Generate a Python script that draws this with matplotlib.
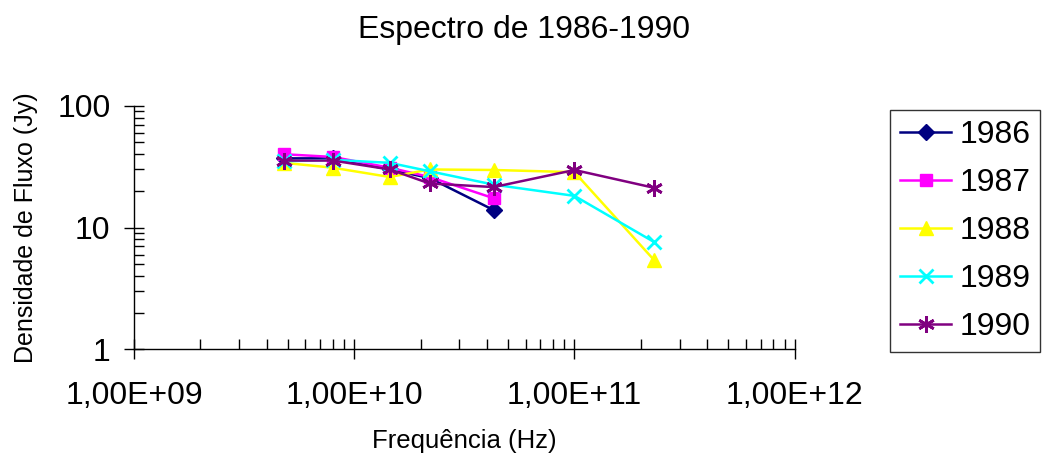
import math
import matplotlib
matplotlib.use("Agg")
import matplotlib.pyplot as plt
from matplotlib.ticker import FixedLocator, LogLocator, FuncFormatter, NullFormatter

plt.rcParams['font.family'] = ['Liberation Sans', 'DejaVu Sans']

# frequências observadas (Hz)
freq = [4.8e9, 8.0e9, 14.5e9, 22e9, 43e9, 1.0e11, 2.3e11]

# densidade de fluxo por ano (Jy)
fluxo_1986 = [37, 37, 30, 25.5, 13.9]
fluxo_1987 = [40, 38, 31, 26, 17.4]
fluxo_1988 = [34, 31, 26, 30, 29.7, 28.5, 5.4]
fluxo_1989 = [35, 36, 34, 29, 22.5, 18.2, 7.6]
fluxo_1990 = [35.5, 35.5, 30, 23, 21.5, 29.7, 21.2]

anos = ['1986', '1987', '1988', '1989', '1990']
series = [fluxo_1986, fluxo_1987, fluxo_1988, fluxo_1989, fluxo_1990]
cores = ['#000080', '#FF00FF', '#FFFF00', '#00FFFF', '#800080']
marcadores = ['D', 's', '^', 'x', (6, 2, 0)]
tamanhos = [8, 8, 10, 10, 12]
bordas = [1, 1, 1, 2, 2]

fig = plt.figure(figsize=(10.47, 4.62), dpi=100)
ax = fig.add_axes([0.128, 0.244, 0.631, 0.527])

for ano, y, c, m, ms, mew in zip(anos, series, cores, marcadores, tamanhos, bordas):
    ax.plot(freq[:len(y)], y, color=c, marker=m, markersize=ms,
            markeredgewidth=mew, linewidth=1.8, label=ano)

ax.set_xscale('log')
ax.set_yscale('log')
ax.set_xlim(1e9, 1e12)
ax.set_ylim(1, 100)

ax.xaxis.set_major_locator(FixedLocator([1e9, 1e10, 1e11, 1e12]))
ax.xaxis.set_minor_locator(LogLocator(base=10, subs=range(2, 10)))
ax.xaxis.set_major_formatter(FuncFormatter(lambda v, p: '1,00E+%02d' % round(math.log10(v))))
ax.xaxis.set_minor_formatter(NullFormatter())
ax.yaxis.set_major_locator(FixedLocator([1, 10, 100]))
ax.yaxis.set_minor_locator(LogLocator(base=10, subs=range(2, 10)))
ax.yaxis.set_major_formatter(FuncFormatter(lambda v, p: '%d' % round(v)))
ax.yaxis.set_minor_formatter(NullFormatter())

ax.spines['top'].set_visible(False)
ax.spines['right'].set_visible(False)
for s in ('left', 'bottom'):
    ax.spines[s].set_linewidth(1.0)
ax.tick_params(which='major', direction='inout', length=14, width=1.0,
               labelsize=23)
ax.tick_params(axis='x', which='major', pad=16)
ax.tick_params(axis='y', which='major', pad=10)
ax.tick_params(which='minor', direction='in', length=7, width=1.0)

fig.text(0.5, 0.935, 'Espectro de 1986-1990', fontsize=23, ha='center', va='center')
ax.set_xlabel('Frequência (Hz)', fontsize=18.5, labelpad=13)
ax.set_ylabel('Densidade de Fluxo (Jy)', fontsize=18, labelpad=14)

leg = fig.legend(loc='upper left', bbox_to_anchor=(0.850, 0.762), fontsize=23,
                 frameon=True, fancybox=False, edgecolor='black',
                 handlelength=1.6, labelspacing=0.56, borderpad=0.32,
                 handletextpad=0.25, borderaxespad=0)
leg.get_frame().set_linewidth(1.0)

fig.savefig('out.png', dpi=100)
